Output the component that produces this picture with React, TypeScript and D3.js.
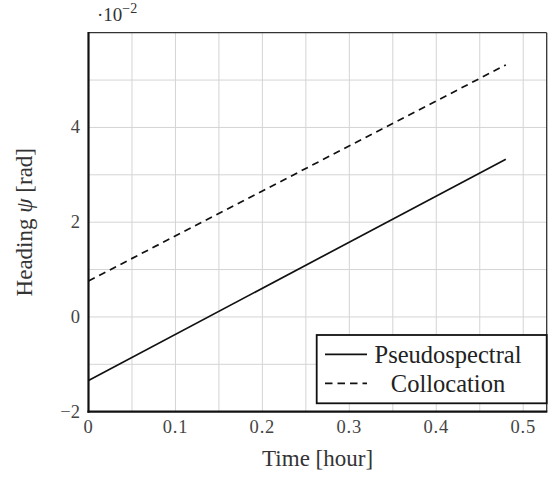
import React from "react";
import * as d3 from "d3";

const times: number[] = [0, 0.48];
const pseudospectral: number[] = [-1.34, 3.33];
const collocation: number[] = [0.76, 5.32];
const xTicks: number[] = [0, 0.1, 0.2, 0.3, 0.4, 0.5];
const yTicks: number[] = [-2, 0, 2, 4];
const xGrid: number[] = [0.05, 0.1, 0.15, 0.2, 0.25, 0.3, 0.35, 0.4, 0.45, 0.5];
const yGrid: number[] = [-1, 0, 1, 2, 3, 4, 5];
const seriesNames: string[] = ["Pseudospectral", "Collocation"];

const W = 549;
const H = 477;
const left = 88.5;
const right = 546.7;
const top = 32.7;
const bottom = 411.7;
const FONT = "'Liberation Serif', 'Times New Roman', serif";

export default function App() {
  const x = d3.scaleLinear().domain([0, 0.527]).range([left, right]);
  const y = d3.scaleLinear().domain([-2, 6]).range([bottom, top]);
  const line = d3
    .line<[number, number]>()
    .x((d) => x(d[0]))
    .y((d) => y(d[1]));
  const ps: [number, number][] = times.map((t, i) => [t, pseudospectral[i]]);
  const co: [number, number][] = times.map((t, i) => [t, collocation[i]]);
  const fmt = (v: number) => (v < 0 ? "\u2212" + Math.abs(v) : String(v));

  const legX0 = 316.7;
  const legX1 = right;
  const legY0 = 335;
  const legY1 = 403.3;

  return (
    <svg
      width={W}
      height={H}
      style={{ position: "fixed", left: 0, top: 0, background: "#fff" }}
      fontFamily={FONT}
    >
      <rect x={0} y={0} width={W} height={H} fill="#fff" />
      {/* grid */}
      {xGrid.map((g) => (
        <line key={"gx" + g} x1={x(g)} x2={x(g)} y1={top} y2={bottom} stroke="#d4d4d4" strokeWidth={1} />
      ))}
      {yGrid.map((g) => (
        <line key={"gy" + g} x1={left} x2={right} y1={y(g)} y2={y(g)} stroke="#d4d4d4" strokeWidth={1} />
      ))}
      {/* data */}
      <path d={line(ps) || ""} fill="none" stroke="#111" strokeWidth={1.7} />
      <path d={line(co) || ""} fill="none" stroke="#111" strokeWidth={1.7} strokeDasharray="7,5" />
      {/* frame */}
      <line x1={left} x2={right} y1={top} y2={top} stroke="#333" strokeWidth={1.3} />
      <line x1={right} x2={right} y1={top} y2={bottom} stroke="#333" strokeWidth={1.3} />
      <line x1={left} x2={left} y1={top - 0.6} y2={bottom + 1} stroke="#111" strokeWidth={2.2} />
      <line x1={left - 1} x2={right + 0.6} y1={bottom} y2={bottom} stroke="#111" strokeWidth={2.2} />
      {/* x tick labels */}
      {xTicks.map((t) => (
        <text key={"xt" + t} x={x(t)} y={433} textAnchor="middle" fontSize={18.5} letterSpacing={0.8} fill="#444">
          {String(t)}
        </text>
      ))}
      {/* y tick labels */}
      {yTicks.map((t) => (
        <text key={"yt" + t} x={80} y={y(t) + 6} textAnchor="end" fontSize={18.5} fill="#444">
          {fmt(t)}
        </text>
      ))}
      {/* exponent */}
      <text x={97} y={20.5} fontSize={19} fill="#333">
        {"\u00b710"}
        <tspan dy={-8} fontSize={14}>
          {"\u22122"}
        </tspan>
      </text>
      {/* axis labels */}
      <text x={(left + right) / 2} y={466} textAnchor="middle" fontSize={23} fill="#333">
        Time [hour]
      </text>
      <text
        transform={`translate(32,${(top + bottom) / 2}) rotate(-90)`}
        textAnchor="middle"
        fontSize={23}
        fill="#333"
      >
        Heading <tspan fontStyle="italic">ψ</tspan> [rad]
      </text>
      {/* legend */}
      <rect x={legX0} y={legY0} width={legX1 - legX0} height={legY1 - legY0} fill="#fff" stroke="#111" strokeWidth={1.8} />
      <line x1={325} x2={367} y1={354.3} y2={354.3} stroke="#111" strokeWidth={1.8} />
      <line x1={325} x2={367} y1={383.3} y2={383.3} stroke="#111" strokeWidth={1.8} strokeDasharray="7.5,5" />
      <text x={448} y={363} textAnchor="middle" fontSize={24.5} fill="#222">
        {seriesNames[0]}
      </text>
      <text x={448} y={392} textAnchor="middle" fontSize={24.5} fill="#222">
        {seriesNames[1]}
      </text>
    </svg>
  );
}
